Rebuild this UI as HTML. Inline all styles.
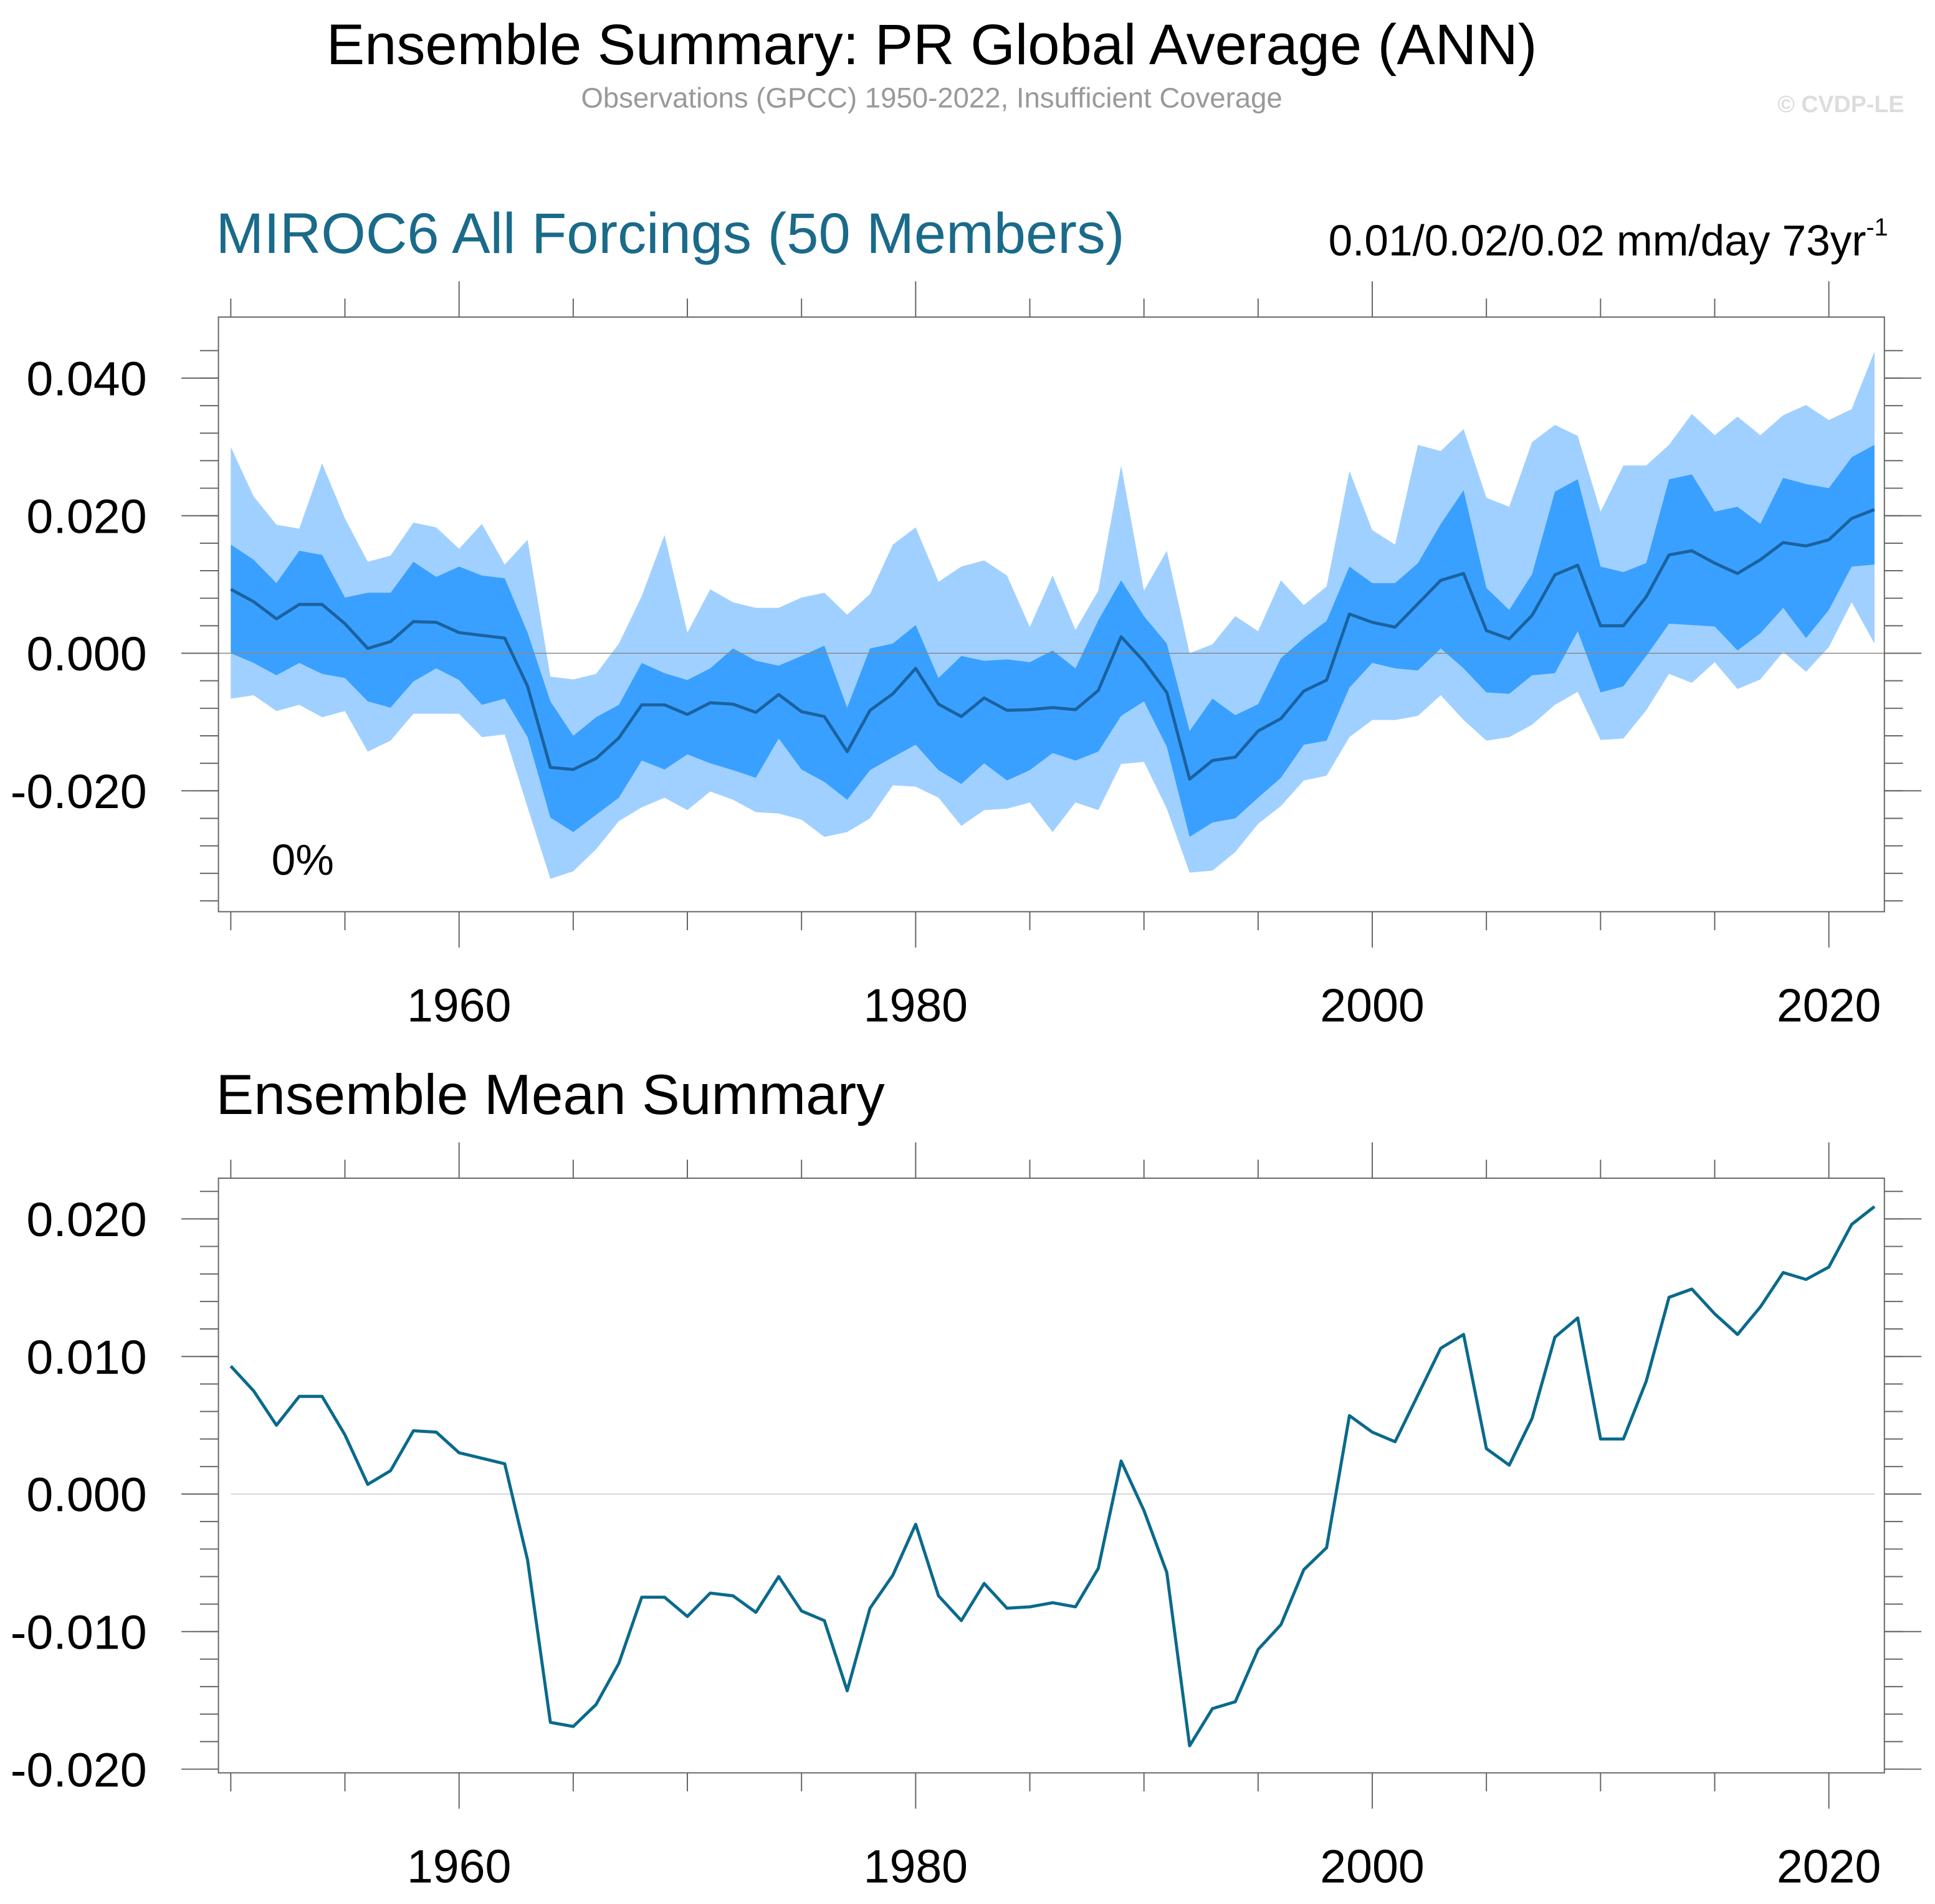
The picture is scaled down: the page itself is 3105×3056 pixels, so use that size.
<!DOCTYPE html>
<html><head><meta charset="utf-8"><style>
html,body{margin:0;padding:0;background:#fff;}
svg{display:block;font-family:"Liberation Sans",sans-serif;}
</style></head><body>
<svg id="chart" width="3105" height="3056" viewBox="0 0 1568 1543.3" xmlns="http://www.w3.org/2000/svg">
<text x="755" y="52" font-size="46.5" text-anchor="middle">Ensemble Summary: PR Global Average (ANN)</text>
<text x="755" y="87" font-size="23" fill="#999" text-anchor="middle">Observations (GPCC) 1950-2022, Insufficient Coverage</text>
<text x="1543" y="91" font-size="19" font-weight="bold" fill="#ddd" text-anchor="end">© CVDP-LE</text>
<text x="175" y="205" font-size="46.5" fill="#1a6a8a">MIROC6 All Forcings (50 Members)</text>
<text x="1530" y="207" font-size="35" text-anchor="end">0.01/0.02/0.02 mm/day 73yr<tspan font-size="20" dy="-16">-1</tspan></text>
<text x="220" y="709" font-size="35">0%</text>
<text x="175" y="903" font-size="46">Ensemble Mean Summary</text>
<g id="top"></g>
<g id="bot"></g>
</svg>
<script>
const years = []; for (let y = 1950; y <= 2022; y++) years.push(y);
const ensMean = [0.0093,0.0075,0.0050,0.0071,0.0071,0.0043,0.0007,0.0017,0.0046,0.0045,0.0030,0.0026,0.0022,-0.0048,-0.0166,-0.0169,-0.0153,-0.0123,-0.0075,-0.0075,-0.0089,-0.0072,-0.0074,-0.0086,-0.0060,-0.0085,-0.0092,-0.0143,-0.0083,-0.0059,-0.0022,-0.0074,-0.0092,-0.0065,-0.0083,-0.0082,-0.0079,-0.0082,-0.0054,0.0024,-0.0012,-0.0057,-0.0183,-0.0156,-0.0151,-0.0113,-0.0095,-0.0055,-0.0039,0.0057,0.0045,0.0038,0.0072,0.0106,0.0116,0.0033,0.0021,0.0055,0.0114,0.0128,0.0040,0.0040,0.0082,0.0143,0.0149,0.0131,0.0116,0.0136,0.0161,0.0156,0.0165,0.0196,0.0209];
const rangeMax = [0.0300,0.0228,0.0187,0.0181,0.0276,0.0196,0.0133,0.0142,0.0190,0.0183,0.0152,0.0188,0.0129,0.0165,-0.0034,-0.0038,-0.0030,0.0014,0.0083,0.0172,0.0030,0.0093,0.0074,0.0066,0.0066,0.0081,0.0088,0.0056,0.0086,0.0158,0.0183,0.0104,0.0126,0.0135,0.0113,0.0038,0.0113,0.0034,0.0091,0.0273,0.0091,0.0149,0.0000,0.0013,0.0054,0.0032,0.0106,0.0070,0.0097,0.0265,0.0179,0.0158,0.0303,0.0294,0.0326,0.0226,0.0213,0.0307,0.0332,0.0316,0.0206,0.0273,0.0273,0.0303,0.0348,0.0317,0.0344,0.0317,0.0346,0.0361,0.0339,0.0355,0.0439];
const p90 = [0.0158,0.0136,0.0102,0.0149,0.0143,0.0081,0.0088,0.0088,0.0133,0.0111,0.0126,0.0113,0.0109,0.0030,-0.0070,-0.0120,-0.0093,-0.0075,-0.0014,-0.0029,-0.0039,-0.0022,0.0007,-0.0011,-0.0018,-0.0004,0.0011,-0.0079,0.0007,0.0014,0.0041,-0.0036,-0.0004,-0.0011,-0.0009,-0.0013,0.0004,-0.0022,0.0048,0.0106,0.0054,0.0014,-0.0113,-0.0066,-0.0090,-0.0074,-0.0007,0.0022,0.0047,0.0126,0.0102,0.0102,0.0131,0.0188,0.0237,0.0095,0.0063,0.0115,0.0235,0.0253,0.0126,0.0118,0.0131,0.0253,0.0260,0.0206,0.0213,0.0188,0.0255,0.0246,0.0240,0.0285,0.0303];
const p10 = [0.0000,-0.0014,-0.0032,-0.0014,-0.0030,-0.0036,-0.0070,-0.0079,-0.0041,-0.0022,-0.0039,-0.0075,-0.0066,-0.0122,-0.0239,-0.0260,-0.0235,-0.0210,-0.0156,-0.0169,-0.0147,-0.0160,-0.0170,-0.0181,-0.0124,-0.0169,-0.0187,-0.0213,-0.0170,-0.0151,-0.0133,-0.0170,-0.0190,-0.0160,-0.0185,-0.0170,-0.0145,-0.0156,-0.0143,-0.0091,-0.0070,-0.0136,-0.0267,-0.0246,-0.0240,-0.0210,-0.0181,-0.0133,-0.0127,-0.0050,-0.0014,-0.0022,-0.0025,0.0007,-0.0022,-0.0057,-0.0059,-0.0032,-0.0029,0.0032,-0.0057,-0.0048,-0.0004,0.0043,0.0041,0.0039,0.0004,0.0029,0.0066,0.0022,0.0063,0.0126,0.0129];
const rangeMin = [-0.0066,-0.0061,-0.0084,-0.0075,-0.0093,-0.0084,-0.0143,-0.0127,-0.0088,-0.0088,-0.0088,-0.0122,-0.0118,-0.0224,-0.0328,-0.0317,-0.0285,-0.0244,-0.0224,-0.0210,-0.0228,-0.0201,-0.0213,-0.0231,-0.0233,-0.0242,-0.0267,-0.0260,-0.0240,-0.0192,-0.0194,-0.0210,-0.0251,-0.0228,-0.0226,-0.0217,-0.0260,-0.0217,-0.0228,-0.0161,-0.0158,-0.0226,-0.0319,-0.0316,-0.0289,-0.0248,-0.0222,-0.0185,-0.0178,-0.0122,-0.0097,-0.0097,-0.0091,-0.0061,-0.0097,-0.0127,-0.0122,-0.0104,-0.0075,-0.0056,-0.0126,-0.0124,-0.0083,-0.0030,-0.0043,-0.0013,-0.0052,-0.0038,0.0002,-0.0027,0.0009,0.0074,0.0014];
const xTickYears = [1960,1980,2000,2020];
const topYTicks = [-0.020,0.000,0.020,0.040];
const topYLabels = ["-0.020","0.000","0.020","0.040"];
const botYTicks = [-0.020,-0.010,0.000,0.010,0.020];
const botYLabels = ["-0.020","-0.010","0.000","0.010","0.020"];

const NS = "http://www.w3.org/2000/svg";
function mk(parent, tag, attrs){const e=document.createElementNS(NS,tag);for(const k in attrs)e.setAttribute(k,attrs[k]);parent.appendChild(e);return e;}
const X = y => 187 + (y - 1950) * 18.5;
function line(g,x1,y1,x2,y2,c,w){return mk(g,'line',{x1,y1,x2,y2,stroke:c,'stroke-width':w});}

function frame(g, top, bot, Y, yMin, yMax, minorStep, ticks, labels){
  for (let yr = 1950; yr <= 2020; yr += 5){
    const major = yr % 20 === 0;
    const len = major ? 29 : 15;
    const t1 = line(g, X(yr), bot, X(yr), bot + len, '#666', 1);
     
    const t2 = line(g, X(yr), top, X(yr), top - len, '#666', 1);
     
  }
  xTickYears.forEach(yr=>{
    const t = mk(g,'text',{x:X(yr), y:bot+89, 'font-size':38, 'text-anchor':'middle'});
    t.textContent = yr;
     
  });
  for (let v = yMin; v <= yMax + 1e-9; v += minorStep){
    const yy = Y(v); if (yy < top - 0.5 || yy > bot + 0.5) continue;
    const t1 = line(g,162,yy,177,yy,'#666',1);
     
    const t2 = line(g,1527,yy,1542,yy,'#666',1);
     
  }
  ticks.forEach((v,i)=>{
    const yy = Y(v);
    const t1 = line(g,147,yy,177,yy,'#666',1);
     
    const t2 = line(g,1527,yy,1557,yy,'#666',1);
     
    const t = mk(g,'text',{x:119, y:yy+14, 'font-size':39, 'text-anchor':'end'});
    t.textContent = labels[i];
     
  });
  const r = mk(g,'rect',{x:177,y:top,width:1350,height:bot-top,fill:'none',stroke:'#666','stroke-width':1});
   
}
function band(g, hi, lo, Y, color, name){
  let d = 'M' + years.map((yr,i)=>X(yr)+','+Y(hi[i])).join('L');
  for (let i = years.length-1; i >= 0; i--) d += 'L' + X(years[i]) + ',' + Y(lo[i]);
  const p = mk(g,'path',{d:d+'Z', fill:color, stroke:'none'});
   
}
function series(g, vals, Y, color, w, name){
  const p = mk(g,'path',{d:'M'+years.map((yr,i)=>X(yr)+','+Y(vals[i])).join('L'), fill:'none', stroke:color,'stroke-width':w,'stroke-linejoin':'round'});
   
}

const gt = document.getElementById('top');
const Yt = v => 529.5 - v * 5575;
band(gt, rangeMax, rangeMin, Yt, '#a0d0ff', 'ensemble-range-band');
band(gt, p90, p10, Yt, '#3aa0ff', 'ensemble-10-90-band');
const z1 = line(gt,177,Yt(0),1527,Yt(0),'#888',0.8);
 
series(gt, ensMean, Yt, '#1a62a0', 2.5, 'ensemble-mean-line');
frame(gt, 257, 739, Yt, -0.036, 0.046, 0.004, topYTicks, topYLabels);

const gb = document.getElementById('bot');
const Yb = v => 1211 - v * 11150;
const z2 = line(gb,187,Yb(0),1519,Yb(0),'#ccc',0.8);
 
series(gb, ensMean, Yb, '#0a6a8c', 2.5, 'ensemble-mean-line');
frame(gb, 955, 1437, Yb, -0.020, 0.024, 0.002, botYTicks, botYLabels);
</script>
</body></html>
